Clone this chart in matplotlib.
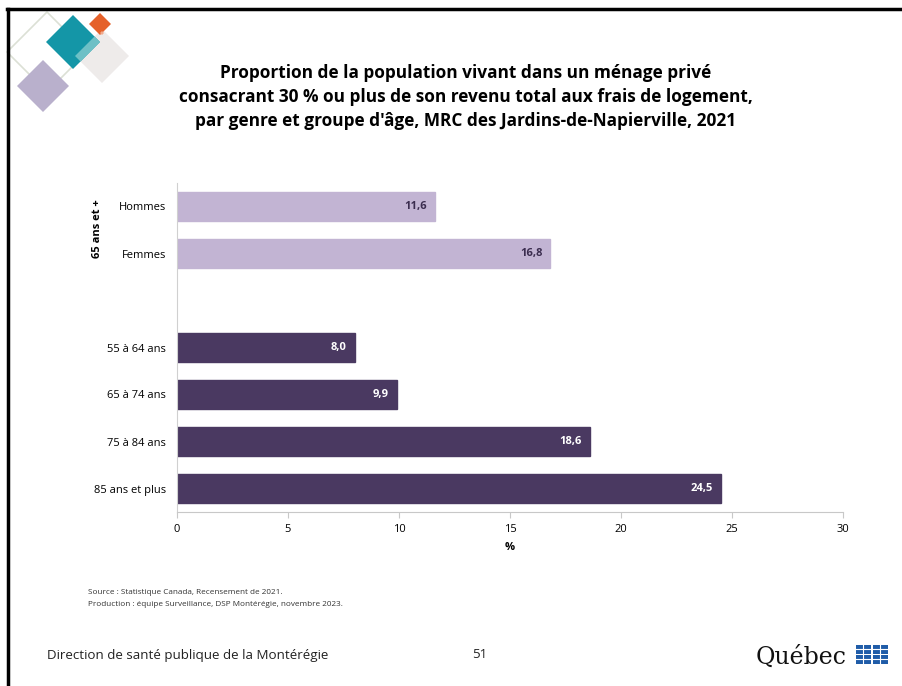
import numpy as np
import matplotlib.pyplot as plt
from matplotlib.patches import Rectangle, Polygon

plt.rcParams['font.family'] = ['Open Sans', 'DejaVu Sans']

# données
categories = ['Hommes', 'Femmes', '', '55 à 64 ans', '65 à 74 ans', '75 à 84 ans', '85 ans et plus']
values = [11.6, 16.8, None, 8.0, 9.9, 18.6, 24.5]
light = '#C2B4D3'
dark = '#4A3961'
colors = [light, light, None, dark, dark, dark, dark]
label_colors = ['#3B2D4F', '#3B2D4F', None, 'white', 'white', 'white', 'white']
xticks = [0, 5, 10, 15, 20, 25, 30]

W, H = 902, 686
fig = plt.figure(figsize=(W / 100, H / 100), dpi=100)


def fx(px):
    return px / W


def fy(py):
    return 1 - py / H


# cadre de la diapositive
fig.add_artist(plt.Line2D([fx(7), fx(902)], [fy(9), fy(9)], color='black', lw=2.5))
fig.add_artist(plt.Line2D([fx(8), fx(8)], [fy(9), fy(686)], color='black', lw=2.5))


# losanges décoratifs
def diamond(cx, cy, r, fc, ec='none', alpha=1.0, lw=1):
    pts = [(fx(cx), fy(cy - r)), (fx(cx + r), fy(cy)), (fx(cx), fy(cy + r)), (fx(cx - r), fy(cy))]
    fig.add_artist(Polygon(pts, closed=True, facecolor=fc, edgecolor=ec, alpha=alpha, lw=lw,
                           transform=fig.transFigure, joinstyle='round'))


def poly(pts, fc):
    fig.add_artist(Polygon([(fx(a), fy(b)) for a, b in pts], closed=True, facecolor=fc,
                           edgecolor='none', transform=fig.transFigure))


diamond(47, 52, 40, 'none', ec='#DCE0D5', lw=1.2)
diamond(43, 86, 26, '#B9B0CC')
diamond(102, 56, 27, '#EEEBEA')
diamond(73, 42, 27, '#1496A7')
poly([(75, 56), (80.5, 61.5), (100, 42), (94.5, 36.5)], '#6DC0C6')
diamond(100, 24, 11, '#E5612A')
poly([(100, 33), (102, 35), (104, 33), (102, 31)], '#F0A98C')

# titre
fig.text(fx(466), fy(97), "Proportion de la population vivant dans un ménage privé\n"
         "consacrant 30 % ou plus de son revenu total aux frais de logement,\n"
         "par genre et groupe d'âge, MRC des Jardins-de-Napierville, 2021",
         ha='center', va='center', fontsize=12.4, fontweight='bold', linespacing=1.45)

ax = fig.add_axes([fx(177), fy(512), fx(843) - fx(177), (512 - 183) / H])
y = np.arange(len(categories))
for i, v in enumerate(values):
    if v is None:
        continue
    ax.barh(y[i], v, height=0.6, color=colors[i], edgecolor=colors[i])
    ax.text(v - 0.35, y[i], f'{v:.1f}'.replace('.', ','), ha='right', va='center',
            fontsize=8, fontweight='bold', color=label_colors[i])

ax.set_ylim(len(categories) - 0.5, -0.5)
ax.set_xlim(0, 30)
ax.set_yticks([i for i in y if categories[i]])
ax.set_yticklabels([c for c in categories if c], fontsize=8)
ax.set_xticks(xticks)
ax.set_xticklabels([str(t) for t in xticks], fontsize=8)
ax.tick_params(axis='y', length=0, pad=8)
ax.tick_params(axis='x', length=4, color='#C8C8C8', pad=5)
for s in ['top', 'right']:
    ax.spines[s].set_visible(False)
ax.spines['left'].set_color('#D0D0D0')
ax.spines['bottom'].set_color('#C8C8C8')
ax.set_xlabel('%', fontsize=8, fontweight='bold', labelpad=5)

fig.text(fx(98), fy(229), '65 ans et +', rotation=90, ha='center', va='center',
         fontsize=8, fontweight='bold')

# source
fig.text(fx(88), fy(592), 'Source : Statistique Canada, Recensement de 2021.', fontsize=5.9,
         va='center', color='#333333')
fig.text(fx(88), fy(604), 'Production : équipe Surveillance, DSP Montérégie, novembre 2023.',
         fontsize=5.9, va='center', color='#333333')

# pied de page
fig.text(fx(47), fy(655), 'Direction de santé publique de la Montérégie', fontsize=9.6,
         va='center', color='#222222')
fig.text(fx(480), fy(655), '51', fontsize=9.6, va='center', ha='center', color='#222222')

# logo Québec
fig.text(fx(756), fy(657), 'Québec', family=['DejaVu Serif'], fontsize=17, va='center',
         color='#111111')
for cx in (863, 880):
    for cy in (649, 659):
        fig.add_artist(Rectangle((fx(cx - 7.5), fy(cy + 4.5)), fx(15), 9 / H, facecolor='#1F5CA8',
                                 edgecolor='none', transform=fig.transFigure))
        fig.add_artist(plt.Line2D([fx(cx - 7.5), fx(cx + 7.5)], [fy(cy), fy(cy)], color='white', lw=0.8))
        fig.add_artist(plt.Line2D([fx(cx), fx(cx)], [fy(cy - 4.5), fy(cy + 4.5)], color='white', lw=0.8))

fig.savefig('out.png', dpi=100)
